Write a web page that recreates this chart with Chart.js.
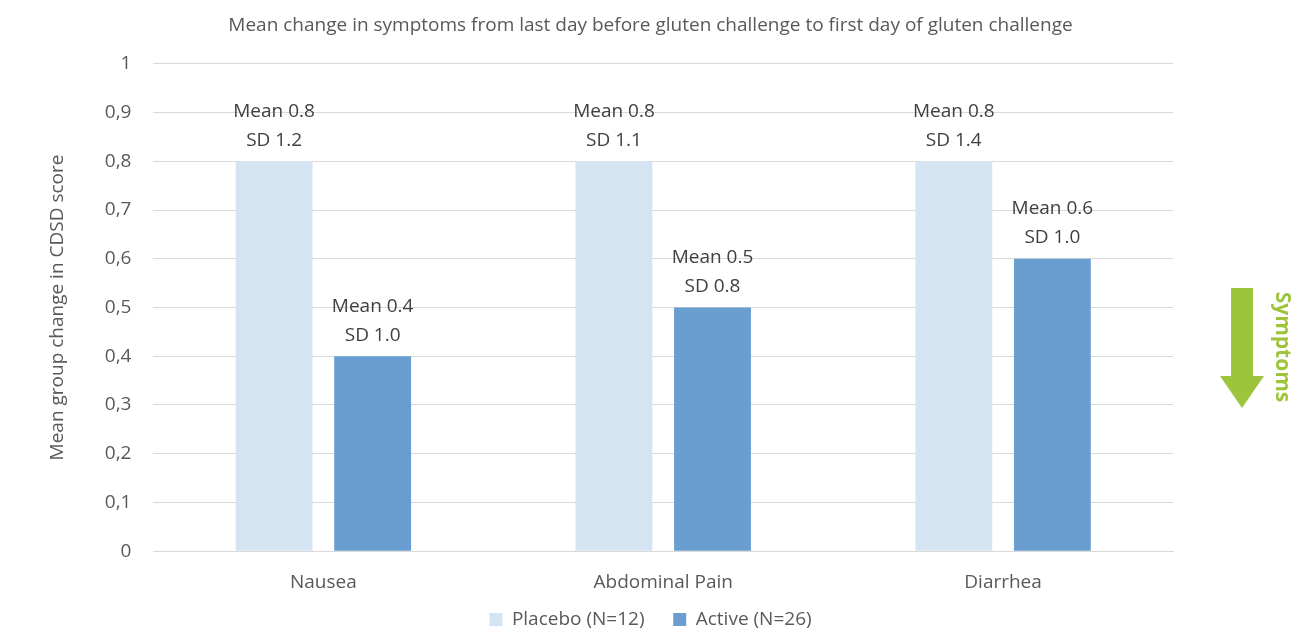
<!DOCTYPE html>
<html>
<head>
<meta charset="utf-8">
<script src="https://cdn.jsdelivr.net/npm/chart.js@4"></script>
<style>
  html, body { margin: 0; padding: 0; background: #fff; }
  #wrap { width: 1301px; height: 636px; }
</style>
</head>
<body>
<div id="wrap"><canvas id="chart" width="1301" height="636"></canvas></div>
<script>
// DATA
let categories = ["Nausea", "Abdominal Pain", "Diarrhea"];
let placeboMean = [0.8, 0.8, 0.8];
let placeboSD = [1.2, 1.1, 1.4];
let activeMean = [0.4, 0.5, 0.6];
let activeSD = [1.0, 0.8, 1.0];
let yTicks = [0, 0.1, 0.2, 0.3, 0.4, 0.5, 0.6, 0.7, 0.8, 0.9, 1];

let FONT = "'Open Sans', sans-serif";

// labels above bars
let barLabels = {
  id: "barLabels",
  afterDatasetsDraw(chart) {
    let c = chart.ctx;
    c.save();
    c.fillStyle = "#404040";
    c.font = "19px " + FONT;
    c.textAlign = "center";
    c.textBaseline = "middle";
    let sds = [placeboSD, activeSD];
    chart.data.datasets.forEach((ds, i) => {
      chart.getDatasetMeta(i).data.forEach((bar, j) => {
        c.fillText("SD " + sds[i][j].toFixed(1), bar.x, bar.y - 21);
        c.fillText("Mean " + ds.data[j].toFixed(1), bar.x, bar.y - 50);
      });
    });
    c.restore();
  }
};

// green arrow on the right
let arrow = {
  id: "arrow",
  afterDraw(chart) {
    let c = chart.ctx;
    c.save();
    c.fillStyle = "#9dc53b";
    let x = 1242, top = 288, shaftW = 22, headW = 44, headTop = 376, tip = 408;
    c.beginPath();
    c.moveTo(x - shaftW / 2, top);
    c.lineTo(x + shaftW / 2, top);
    c.lineTo(x + shaftW / 2, headTop);
    c.lineTo(x + headW / 2, headTop);
    c.lineTo(x, tip);
    c.lineTo(x - headW / 2, headTop);
    c.lineTo(x - shaftW / 2, headTop);
    c.closePath();
    c.fill();
    c.translate(1282, 347);
    c.rotate(Math.PI / 2);
    c.font = "bold 21px " + FONT;
    c.textAlign = "center";
    c.textBaseline = "middle";
    c.fillText("Symptoms", 0, 0);
    c.restore();
  }
};

let ctx = document.getElementById("chart").getContext("2d");
let chart = new Chart(ctx, {
  type: "bar",
  data: {
    labels: categories,
    datasets: [
      { label: "Placebo (N=12)", data: placeboMean, backgroundColor: "#d5e4f2" },
      { label: "Active (N=26)", data: activeMean, backgroundColor: "#6a9ed1" }
    ]
  },
  options: {
    responsive: false,
    animation: false,
    categoryPercentage: 0.58,
    barPercentage: 0.78,
    layout: { padding: { left: 0, right: 0, top: 4, bottom: -3 } },
    plugins: {
      title: {
        display: true,
        text: "Mean change in symptoms from last day before gluten challenge to first day of gluten challenge",
        color: "#595959",
        font: { family: FONT, size: 19, weight: "normal" },
        padding: { top: 10, bottom: 27 }
      },
      legend: {
        position: "bottom",
        labels: {
          color: "#595959",
          font: { family: FONT, size: 19 },
          boxWidth: 13,
          boxHeight: 13,
          padding: 4,
          // wider gap between the two entries without extra height
          generateLabels(chart) {
            let items = Chart.defaults.plugins.legend.labels.generateLabels(chart);
            items.forEach((it, i) => { if (i < items.length - 1) it.text += "     "; });
            return items;
          }
        }
      },
      tooltip: { enabled: false }
    },
    scales: {
      x: {
        grid: { display: false },
        border: { color: "#d9d9d9" },
        ticks: { color: "#595959", font: { family: FONT, size: 19 }, padding: 12 }
      },
      y: {
        min: 0,
        max: 1,
        afterBuildTicks(axis) { axis.ticks = yTicks.map(v => ({ value: v })); },
        grid: { color: "#d9d9d9", drawTicks: false },
        border: { display: false },
        ticks: {
          color: "#595959",
          font: { family: FONT, size: 19 },
          padding: 22,
          callback: v => String(v).replace(".", ",")
        },
        title: {
          display: true,
          text: "Mean group change in CDSD score",
          color: "#595959",
          font: { family: FONT, size: 19 },
          padding: { top: 46, bottom: 14 }
        }
      },
      // empty right axis that only reserves room for the arrow
      y2: {
        position: "right",
        display: true,
        grid: { display: false },
        border: { display: false },
        ticks: { display: false },
        afterFit(axis) { axis.width = 128; }
      }
    }
  },
  plugins: [barLabels, arrow]
});
</script>
</body>
</html>
